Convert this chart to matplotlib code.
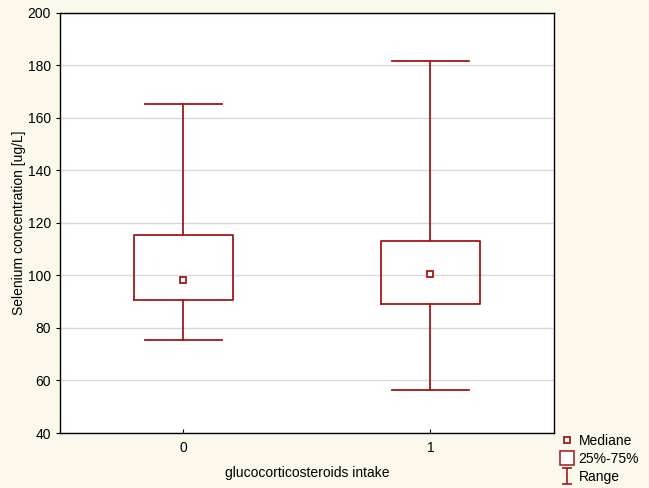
import matplotlib
matplotlib.use("Agg")
from matplotlib import pyplot as plt
from matplotlib.lines import Line2D
from matplotlib.path import Path

plt.rcParams['font.family'] = ['Liberation Sans', 'DejaVu Sans']

groups = ['0', '1']
medians = [98.3, 100.6]
q1s = [90.8, 89.2]
q3s = [115.5, 113.1]
mins = [75.6, 56.2]
maxs = [165.3, 181.8]

red = '#a01818'
bg = '#fdf8ec'

fig = plt.figure(figsize=(6.49, 4.88), dpi=100, facecolor=bg)
ax = fig.add_axes([0.0924, 0.1127, 0.7612, 0.8607])
ax.set_facecolor('white')

stats = []
for i in range(len(groups)):
    stats.append({'med': medians[i], 'q1': q1s[i], 'q3': q3s[i],
                  'whislo': mins[i], 'whishi': maxs[i], 'label': groups[i]})

ax.bxp(stats, positions=range(len(groups)), widths=0.4, capwidths=0.31,
       showfliers=False,
       boxprops=dict(color=red, linewidth=1.3),
       whiskerprops=dict(color=red, linewidth=1.3),
       capprops=dict(color=red, linewidth=1.3),
       medianprops=dict(linewidth=0))
ax.plot(range(len(groups)), medians, linestyle='none', marker='s', markersize=5,
        markerfacecolor='white', markeredgecolor=red, markeredgewidth=1.3)

ax.set_xlim(-0.5, 1.5)
ax.set_ylim(40, 200)
ax.set_yticks(range(40, 201, 20))
ax.yaxis.grid(True, color='#d8d8d8', linewidth=1)
ax.set_axisbelow(True)
for s in ax.spines.values():
    s.set_color('black')
    s.set_linewidth(1)
ax.tick_params(labelsize=10, length=3, color='black')
ax.tick_params(axis='x', direction='in', pad=6)
ax.set_xlabel('glucocorticosteroids intake', fontsize=10, labelpad=8)
ax.set_ylabel('Selenium concentration [ug/L]', fontsize=10, labelpad=1)

range_marker = Path([(-0.7, 1), (0.7, 1), (0, 1), (0, -1), (-0.7, -1), (0.7, -1)],
                    [Path.MOVETO, Path.LINETO, Path.MOVETO, Path.LINETO, Path.MOVETO, Path.LINETO])
handles = [
    Line2D([], [], linestyle='none', marker='s', markersize=4.5, markerfacecolor='white',
           markeredgecolor=red, markeredgewidth=1.3),
    Line2D([], [], linestyle='none', marker='s', markersize=10, markerfacecolor='white',
           markeredgecolor=red, markeredgewidth=1.1),
    Line2D([], [], linestyle='none', marker=range_marker, markersize=11, markerfacecolor='none',
           markeredgecolor=red, markeredgewidth=1.2),
]
fig.legend(handles, ['Mediane', '25%-75%', 'Range'], loc='upper left',
           bbox_to_anchor=(0.855, 0.122), frameon=False, fontsize=10,
           handlelength=1.0, handletextpad=0.3, labelspacing=0.3, borderaxespad=0)

fig.savefig('out.png', dpi=100, facecolor=bg)
